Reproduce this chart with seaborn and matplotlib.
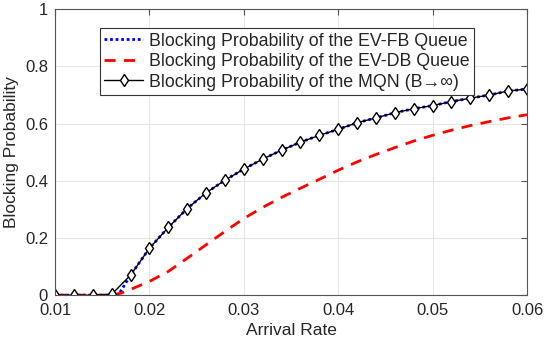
import matplotlib
matplotlib.use("Agg")
import matplotlib.pyplot as plt
import seaborn as sns

# arrival rates at the MQN markers
rate = [0.010, 0.012, 0.014, 0.016, 0.018, 0.020, 0.022, 0.024, 0.026, 0.028,
        0.030, 0.032, 0.034, 0.036, 0.038, 0.040, 0.042, 0.044, 0.046, 0.048,
        0.050, 0.052, 0.054, 0.056, 0.058, 0.060]
mqn = [0.0, 0.0, 0.0, 0.003, 0.070, 0.164, 0.237, 0.303, 0.358, 0.402,
       0.441, 0.476, 0.507, 0.535, 0.559, 0.580, 0.603, 0.620, 0.638, 0.652,
       0.663, 0.677, 0.689, 0.700, 0.714, 0.721]

# EV-FB queue (stays at zero a little longer than the MQN curve)
rate_fb = [0.010, 0.012, 0.014, 0.016, 0.0167, 0.018, 0.020, 0.022, 0.024, 0.026,
           0.028, 0.030, 0.032, 0.034, 0.036, 0.038, 0.040, 0.042, 0.044, 0.046,
           0.048, 0.050, 0.052, 0.054, 0.056, 0.058, 0.060]
fb = [0.0, 0.0, 0.0, 0.0, 0.0, 0.070, 0.164, 0.237, 0.303, 0.358,
      0.402, 0.441, 0.476, 0.507, 0.535, 0.559, 0.580, 0.603, 0.620, 0.638,
      0.652, 0.663, 0.677, 0.689, 0.700, 0.714, 0.721]

# EV-DB queue
rate_db = [0.010, 0.012, 0.014, 0.016, 0.017, 0.018, 0.020, 0.022, 0.024, 0.026,
           0.028, 0.030, 0.032, 0.034, 0.036, 0.038, 0.040, 0.042, 0.044, 0.046,
           0.048, 0.050, 0.052, 0.054, 0.056, 0.058, 0.060]
db = [0.0, 0.0, 0.0, 0.0, 0.007, 0.020, 0.048, 0.083, 0.129, 0.176,
      0.223, 0.268, 0.307, 0.342, 0.374, 0.405, 0.437, 0.466, 0.492, 0.516,
      0.539, 0.559, 0.577, 0.593, 0.607, 0.620, 0.631]

x_ticks = [0.01, 0.02, 0.03, 0.04, 0.05, 0.06]
y_ticks = [0, 0.2, 0.4, 0.6, 0.8, 1]
y_labels = ["0", "0.2", "0.4", "0.6", "0.8", "1"]

sns.set_style("whitegrid")
plt.rcParams["font.family"] = ["Liberation Sans", "DejaVu Sans"]
plt.rcParams["xtick.direction"] = "in"
plt.rcParams["ytick.direction"] = "in"

fig = plt.figure(figsize=(5.45, 3.42), dpi=100)
ax = fig.add_axes([0.101, 0.137, 0.866, 0.836])

sns.lineplot(x=rate_fb, y=fb, ax=ax, color="#0000ff", linestyle=(0, (1, 1)), linewidth=2,
             label="Blocking Probability of the EV-FB Queue")
sns.lineplot(x=rate_db, y=db, ax=ax, color="#ff0000", linestyle=(0, (4, 3)), linewidth=2,
             label="Blocking Probability of the EV-DB Queue")
sns.lineplot(x=rate, y=mqn, ax=ax, color="black", linewidth=1, marker="d", markersize=6,
             markerfacecolor="white", markeredgecolor="black", markeredgewidth=1,
             label="Blocking Probability of the MQN (B\u2192\u221e)")

ax.set_xlim(0.01, 0.06)
ax.set_ylim(0, 1)
ax.set_xticks(x_ticks)
ax.set_xticklabels([f"{t:.2f}" for t in x_ticks])
ax.set_yticks(y_ticks)
ax.set_yticklabels(y_labels)
ax.tick_params(labelsize=12, length=4, color="#555555", top=True, right=True)
ax.tick_params(axis="x", pad=6)
ax.tick_params(axis="y", pad=5)
ax.set_xlabel("Arrival Rate", fontsize=12.5, labelpad=3)
ax.set_ylabel("Blocking Probability", fontsize=12.5, labelpad=4)
ax.grid(True, color="#e6e6e6", linewidth=0.8)
for s in ax.spines.values():
    s.set_color("#555555")
    s.set_linewidth(0.8)

leg = ax.legend(loc="upper left", bbox_to_anchor=(0.095, 0.934), fontsize=12.8,
                handlelength=2.2, handletextpad=0.3, borderpad=0.25, labelspacing=0.2,
                fancybox=False, framealpha=1, borderaxespad=0)
leg.get_frame().set_edgecolor("#333333")
leg.get_frame().set_linewidth(0.8)

fig.savefig("out.png", dpi=100)
